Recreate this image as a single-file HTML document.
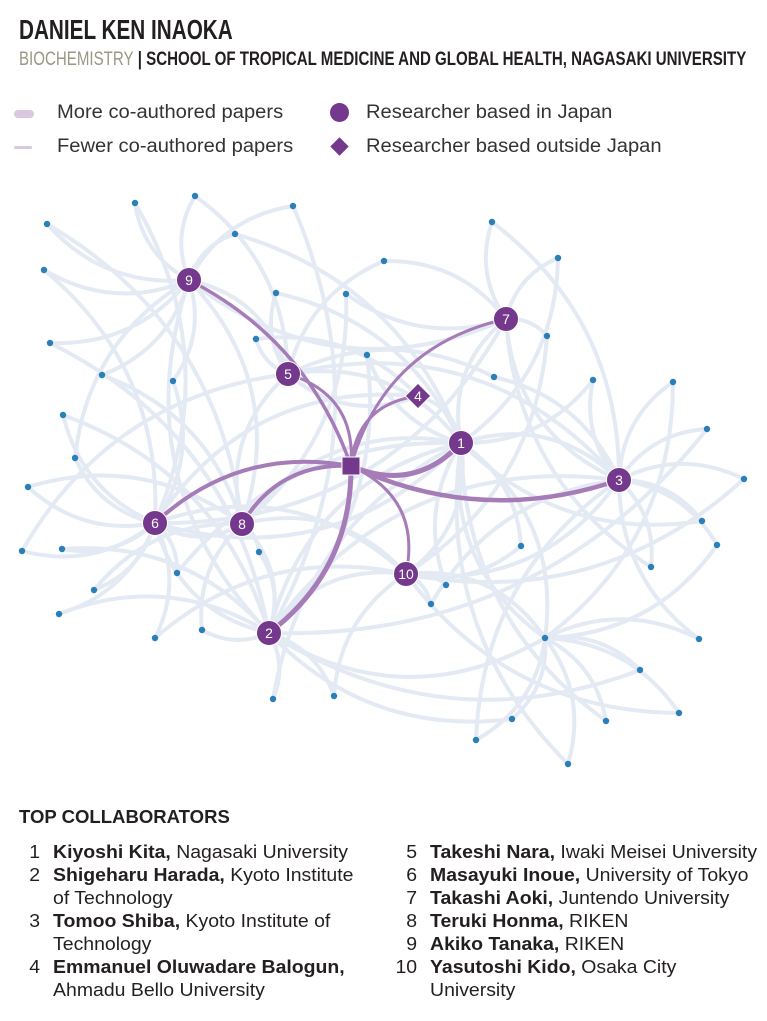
<!DOCTYPE html>
<html><head><meta charset="utf-8">
<style>
html,body{margin:0;padding:0;background:#fff;}
body{width:767px;height:1021px;position:relative;overflow:hidden;font-family:"Liberation Sans",sans-serif;color:#231f20;}
.t{position:absolute;white-space:nowrap;transform-origin:0 0;}
.l{position:absolute;white-space:nowrap;font-size:18px;transform-origin:0 0;transform:scaleX(1.08);}
.l b{font-weight:bold;}
.n{display:inline-block;width:26px;text-align:right;margin-right:12px;}
</style></head><body>
<div class="t" style="left:19px;top:14px;font-size:28px;font-weight:bold;transform:scaleX(0.74);">DANIEL KEN INAOKA</div>
<div class="t" style="left:19px;top:49px;font-size:19px;font-weight:bold;transform:scaleX(0.794);"><span style="color:#9a9784;font-weight:normal">BIOCHEMISTRY</span> | SCHOOL OF TROPICAL MEDICINE AND GLOBAL HEALTH, NAGASAKI UNIVERSITY</div>
<div style="position:absolute;left:14px;top:110px;width:20px;height:8px;border-radius:4px;background:#d9c8df"></div>
<div style="position:absolute;left:14px;top:146px;width:18px;height:3px;border-radius:2px;background:#d9c8df"></div>
<div class="t" style="left:57px;top:102px;font-size:19px;color:#333;transform:scaleX(1.06)">More co-authored papers</div>
<div class="t" style="left:57px;top:136px;font-size:19px;color:#333;transform:scaleX(1.06)">Fewer co-authored papers</div>
<div style="position:absolute;left:330px;top:103px;width:19px;height:19px;border-radius:50%;background:#74388c"></div>
<div style="position:absolute;left:333px;top:140px;width:13px;height:13px;background:#74388c;transform:rotate(45deg)"></div>
<div class="t" style="left:366px;top:102px;font-size:19px;color:#333;transform:scaleX(1.06)">Researcher based in Japan</div>
<div class="t" style="left:366px;top:136px;font-size:19px;color:#333;transform:scaleX(1.06)">Researcher based outside Japan</div>

<svg id="net" width="767" height="800" style="position:absolute;left:0;top:0" xmlns="http://www.w3.org/2000/svg">
<g id="blue" fill="none" stroke="#e0e7f1" stroke-width="4" stroke-linecap="round" opacity="0.85"></g>
<g id="purp" fill="none" stroke="#a57cb8" stroke-linecap="round"></g>
<g id="dots" fill="#2a7fb8"></g>
<g id="nodes"></g>
</svg>

<div class="t" style="left:19px;top:807px;font-size:18px;font-weight:bold;transform:scaleX(1.03)">TOP COLLABORATORS</div>
<div class="l" style="left:12px;top:842px"><span class="n">1</span><b>Kiyoshi Kita,</b> Nagasaki University</div>
<div class="l" style="left:12px;top:865px"><span class="n">2</span><b>Shigeharu Harada,</b> Kyoto Institute</div>
<div class="l" style="left:12px;top:888px"><span class="n"></span>of Technology</div>
<div class="l" style="left:12px;top:911px"><span class="n">3</span><b>Tomoo Shiba,</b> Kyoto Institute of</div>
<div class="l" style="left:12px;top:934px"><span class="n"></span>Technology</div>
<div class="l" style="left:12px;top:957px"><span class="n">4</span><b>Emmanuel Oluwadare Balogun,</b></div>
<div class="l" style="left:12px;top:980px"><span class="n"></span>Ahmadu Bello University</div>
<div class="l" style="left:389px;top:842px"><span class="n">5</span><b>Takeshi Nara,</b> Iwaki Meisei University</div>
<div class="l" style="left:389px;top:865px"><span class="n">6</span><b>Masayuki Inoue,</b> University of Tokyo</div>
<div class="l" style="left:389px;top:888px"><span class="n">7</span><b>Takashi Aoki,</b> Juntendo University</div>
<div class="l" style="left:389px;top:911px"><span class="n">8</span><b>Teruki Honma,</b> RIKEN</div>
<div class="l" style="left:389px;top:934px"><span class="n">9</span><b>Akiko Tanaka,</b> RIKEN</div>
<div class="l" style="left:389px;top:957px"><span class="n">10</span><b>Yasutoshi Kido,</b> Osaka City</div>
<div class="l" style="left:389px;top:980px"><span class="n"></span>University</div>

<script>
var NS="http://www.w3.org/2000/svg";
var H={c:[351,466],1:[461,443],2:[269,633],3:[619,480],4:[418,396],5:[288,374],6:[155,523],7:[506,319],8:[242,524],9:[189,280],10:[406,574],b:[545,638]};
function curve(a,b,k){var mx=(a[0]+b[0])/2,my=(a[1]+b[1])/2,dx=b[0]-a[0],dy=b[1]-a[1];
 return "M"+a[0]+","+a[1]+" Q"+(mx-dy*k)+","+(my+dx*k)+" "+b[0]+","+b[1];}
function add(g,d,w){var p=document.createElementNS(NS,"path");p.setAttribute("d",d);if(w)p.setAttribute("stroke-width",w);document.getElementById(g).appendChild(p);}
var dots=[
[[195,196],['9','5']],[[135,203],['9','6']],[[47,224],['9','8']],[[293,206],['9','2']],[[235,234],['9','1']],[[44,270],['9','6']],[[50,343],['9','2']],[[102,375],['9','8']],[[173,381],['9','6']],[[276,293],['5','1']],
[[492,222],['7','3']],[[558,258],['7','1']],[[384,261],['5','7']],[[346,294],['7','8']],[[547,336],['7','10']],[[256,339],['5','4']],[[367,355],['1','2']],[[494,377],['5','3']],
[[593,380],['3','1']],[[673,382],['3','b']],[[707,429],['3','2']],[[744,479],['3','10']],[[702,521],['3','1']],[[717,545],['3','b']],[[651,567],['3','7']],[[521,546],['1','10']],
[[63,415],['6','2']],[[75,458],['6','9']],[[28,487],['6','8']],[[22,551],['6','5']],[[62,549],['6','2']],[[177,573],['6','1']],[[94,590],['6','8']],[[59,614],['6','2']],[[155,638],['6','10']],[[259,552],['8','2']],
[[446,585],['10','1']],[[431,604],['10','3']],[[202,630],['2','8']],[[273,699],['2','1']],[[334,696],['2','10']],
[[699,639],['b','3']],[[640,670],['b','2']],[[679,713],['b','10']],[[606,721],['b','1']],[[512,719],['b','2']],[[476,740],['b','3']],[[568,764],['b','1']]
];
var i=0;
dots.forEach(function(d){d[1].forEach(function(h){i++;add("blue",curve(d[0],H[h],(i%2?0.25:-0.25)));});});
var hh=[['9','5'],['9','7'],['9','8'],['9','2'],['5','1'],['5','8'],['5','3'],['7','1'],['7','6'],['7','3'],['1','3'],['1','2'],['1','6'],['1','8'],['1','10'],['3','2'],['3','10'],['2','8'],['2','10'],['6','8'],['6','10'],['b','1'],['b','2'],['b','10'],['4','1'],['4','6'],['4','5'],['10','8'],['2','6'],['1','b']];
hh.forEach(function(e,j){add("blue",curve(H[e[0]],H[e[1]],(j%2?0.3:-0.3)));});
var pe=[['1',0.35,5],['2',-0.25,5],['3',0.2,4.5],['4',-0.4,3],['5',0.4,3],['6',0.25,4],['7',-0.3,3],['8',0.3,4],['9',0.2,3.5],['10',-0.4,3]];
pe.forEach(function(e){add("purp",curve(H.c,H[e[0]],e[1]),e[2]);});
dots.forEach(function(d){var c=document.createElementNS(NS,"circle");c.setAttribute("cx",d[0][0]);c.setAttribute("cy",d[0][1]);c.setAttribute("r",3.2);document.getElementById("dots").appendChild(c);});
var bc=document.createElementNS(NS,"circle");bc.setAttribute("cx",545);bc.setAttribute("cy",638);bc.setAttribute("r",3.2);document.getElementById("dots").appendChild(bc);
var g=document.getElementById("nodes"),s="";
for(var k=1;k<=10;k++){var p=H[k];
 if(k==4){s+='<rect x="'+(p[0]-9)+'" y="'+(p[1]-9)+'" width="18" height="18" fill="#74388c" stroke="#fff" stroke-width="1" transform="rotate(45 '+p[0]+' '+p[1]+')"/>';}
 else s+='<circle cx="'+p[0]+'" cy="'+p[1]+'" r="12.5" fill="#74388c" stroke="#fff" stroke-width="1"/>';
 s+='<text x="'+p[0]+'" y="'+(p[1]+5)+'" text-anchor="middle" font-family="Liberation Sans,sans-serif" font-size="14" fill="#fff">'+k+'</text>';}
s+='<rect x="342" y="457" width="18" height="18" fill="#74388c" stroke="#fff" stroke-width="1"/>';
g.innerHTML=s;
</script>
</body></html>
